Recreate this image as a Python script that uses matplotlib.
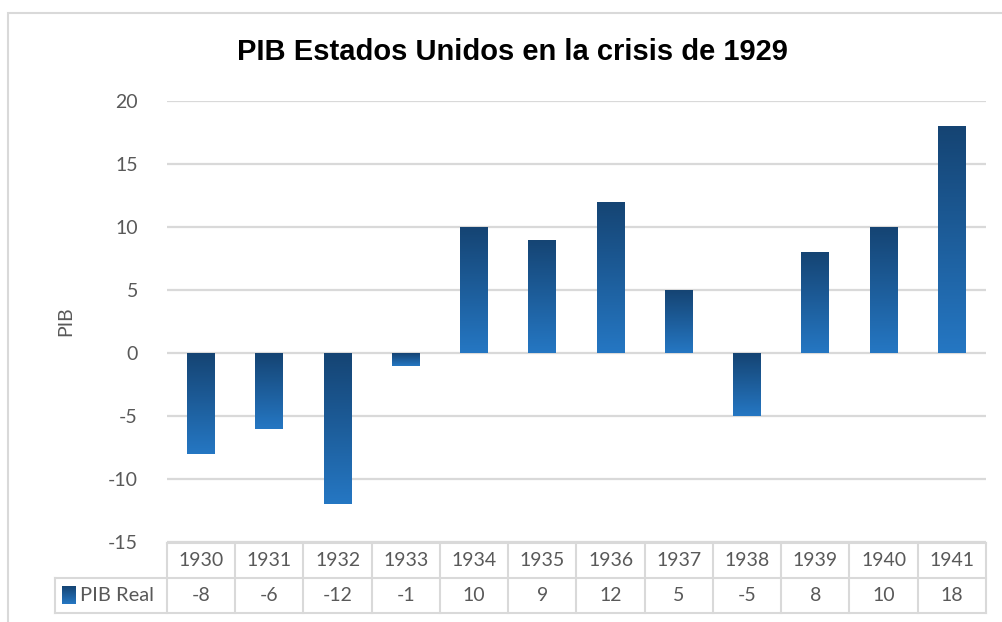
import matplotlib
matplotlib.use("Agg")
import matplotlib.pyplot as plt
import numpy as np
from matplotlib.patches import Rectangle

plt.rcParams["axes.unicode_minus"] = False

years = ["1930", "1931", "1932", "1933", "1934", "1935",
         "1936", "1937", "1938", "1939", "1940", "1941"]
pib_real = [-8, -6, -12, -1, 10, 9, 12, 5, -5, 8, 10, 18]
series_name = "PIB Real"
title = "PIB Estados Unidos en la crisis de 1929"
y_ticks = [-15, -10, -5, 0, 5, 10, 15, 20]

W, H = 1003, 622
fig = plt.figure(figsize=(W / 100, H / 100), dpi=100, facecolor="white")

def fx(px):
    return px / W

def fy(py):
    return 1 - py / H

# outer chart border (right/bottom run off the picture)
fig.patches.append(Rectangle((fx(8), fy(640)), fx(1010) - fx(8), fy(13) - fy(640),
                             transform=fig.transFigure, fill=False,
                             edgecolor="#d9d9d9", lw=1.5))

left, right, top, bottom = 167, 986, 101, 542
ax = fig.add_axes([fx(left), fy(bottom), fx(right) - fx(left), fy(top) - fy(bottom)])
x = np.arange(len(years))
ax.set_xlim(-0.5, len(years) - 0.5)
ax.set_ylim(-15, 20)
ax.set_yticks(y_ticks)
ax.set_xticks([])
for s in ax.spines.values():
    s.set_visible(False)
ax.tick_params(axis="y", length=0, pad=21, labelsize=14, labelcolor="#595959")
for lab in ax.get_yticklabels():
    lab.set_fontfamily("Lato")
ax.yaxis.grid(True, color="#d9d9d9", lw=1.6)
ax.set_axisbelow(True)
ax.set_ylabel("PIB", fontsize=14, color="#595959", family="Lato", labelpad=24)

# gradient bars: dark at top, lighter at bottom
cmap = matplotlib.colors.LinearSegmentedColormap.from_list("g", ["#154473", "#2577c3"])
grad = np.linspace(0, 1, 256).reshape(-1, 1)
bars = ax.bar(x, pib_real, width=0.41, color="none", zorder=3)
for b in bars:
    x0, y0 = b.get_x(), b.get_y()
    w, h = b.get_width(), b.get_height()
    ylo, yhi = min(y0, y0 + h), max(y0, y0 + h)
    im = ax.imshow(grad, cmap=cmap, aspect="auto", extent=[x0, x0 + w, ylo, yhi],
                   origin="upper", zorder=3)
    im.set_clip_path(b)
ax.set_xlim(-0.5, len(years) - 0.5)
ax.set_ylim(-15, 20)

fig.text(fx(512), fy(52), title, ha="center", va="center", fontsize=21,
         fontweight="bold", family="Liberation Sans", color="black")

# data table below the plot
tax = fig.add_axes([fx(left), fy(613), fx(right) - fx(left), fy(543) - fy(613)], sharex=ax)
tax.set_ylim(0, 2)
tax.axis("off")
lc = "#d9d9d9"
xl = -0.5 - (left - 55) / ((right - left) / len(years))
for i in range(len(years) + 1):
    tax.plot([i - 0.5, i - 0.5], [0, 2], color=lc, lw=1.5, clip_on=False)
tax.plot([-0.5, len(years) - 0.5], [2, 2], color=lc, lw=1.5, clip_on=False)
tax.plot([xl, len(years) - 0.5], [1, 1], color=lc, lw=1.5, clip_on=False)
tax.plot([xl, len(years) - 0.5], [0, 0], color=lc, lw=1.5, clip_on=False)
tax.plot([xl, xl], [0, 1], color=lc, lw=1.5, clip_on=False)
for i, (yr, v) in enumerate(zip(years, pib_real)):
    tax.text(i, 1.5, yr, ha="center", va="center", fontsize=14,
             color="#595959", family="Lato")
    tax.text(i, 0.5, str(v), ha="center", va="center", fontsize=14,
             color="#595959", family="Lato")
# legend key in the row header
key = tax.imshow(grad, cmap=cmap, aspect="auto",
                 extent=[xl + 0.1, xl + 0.3, 0.25, 0.75], origin="upper",
                 zorder=3, clip_on=False)
tax.text(xl + 0.36, 0.5, series_name, ha="left", va="center", fontsize=14.5,
         color="#595959", family="Lato")
tax.set_xlim(-0.5, len(years) - 0.5)
tax.set_ylim(0, 2)

fig.savefig("out.png", dpi=100, facecolor="white")
